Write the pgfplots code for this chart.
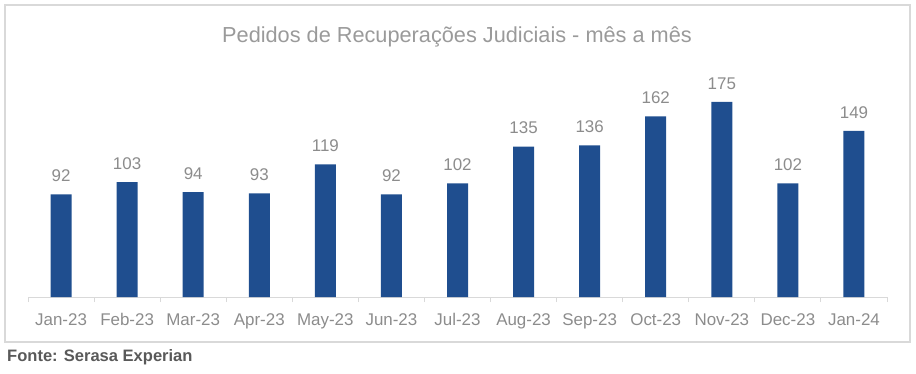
\documentclass[border=0pt]{standalone}
\usepackage{pgfplots}
\pgfplotsset{compat=1.18}
\usepackage{fontspec}
\setmainfont{Liberation Sans}
\definecolor{barblue}{HTML}{1F4E8F}
\definecolor{lblgray}{HTML}{8C8C8C}
\definecolor{ttlgray}{HTML}{9A9A9A}
\definecolor{linegray}{HTML}{D9D9D9}
\definecolor{srcgray}{HTML}{595959}
\begin{document}
\begin{tikzpicture}[x=1bp,y=1bp]
\useasboundingbox (0,0) rectangle (916,373);
\draw[linegray, line width=1.5bp] (5,31) rectangle (910,368);
\node[anchor=base west, font=\fontsize{16.6}{19}\selectfont\bfseries, text=srcgray, inner sep=0] at (7,12) {Fonte: Serasa Experian};
\node[font=\fontsize{21.8}{26}\selectfont, text=ttlgray, inner sep=0] at (457,336) {Pedidos de Recuperações Judiciais - mês a mês};
\begin{axis}[
  at={(28bp,76bp)}, anchor=south west,
  scale only axis, width=859bp, height=222.9bp,
  xmin=-0.5, xmax=12.5, ymin=0, ymax=200,
  axis x line=bottom, axis y line=none,
  x axis line style={-, draw=linegray, line width=1bp},
  xtick={0,...,12},
  xticklabels={Jan-23,Feb-23,Mar-23,Apr-23,May-23,Jun-23,Jul-23,Aug-23,Sep-23,Oct-23,Nov-23,Dec-23,Jan-24},
  major tick length=0pt,
  minor xtick={-0.5,0.5,...,12.5},
  minor tick length=5bp,
  tick align=outside,
  minor tick style={draw=linegray, line width=1bp},
  xticklabel style={font=\fontsize{17}{20}\selectfont, text=lblgray, yshift=-13bp},
  ytick=\empty,
  clip=false,
  /pgf/number format/assume math mode=true,
]
\addplot[ybar, bar width=21bp, fill=barblue, draw=none,
  nodes near coords,
  nodes near coords style={font=\fontsize{17}{20}\selectfont, text=lblgray, yshift=9bp}]
  coordinates {(0,92) (1,103) (2,94) (3,93) (4,119) (5,92) (6,102) (7,135) (8,136) (9,162) (10,175) (11,102) (12,149)};
\end{axis}
\end{tikzpicture}
\end{document}
